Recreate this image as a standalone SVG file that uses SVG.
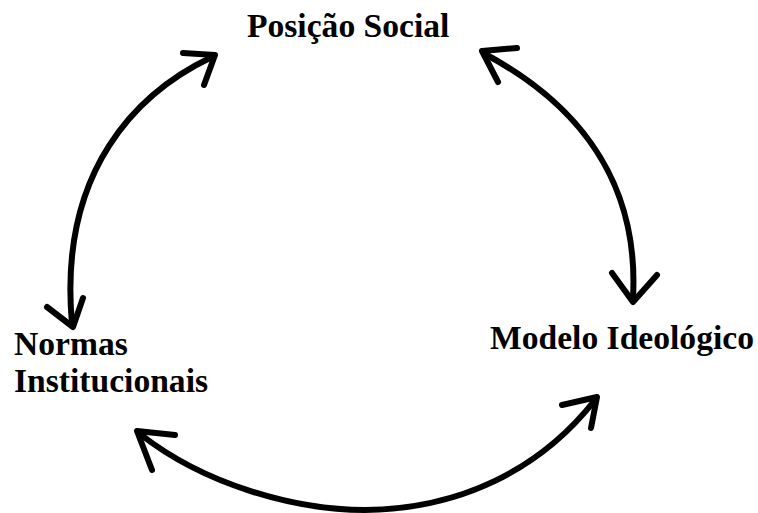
<svg xmlns="http://www.w3.org/2000/svg" width="758" height="513" viewBox="0 0 758 513">
  <style>
    .label { font-family: "Liberation Serif", "Times New Roman", serif; font-weight: bold; font-size: 33.6px; fill: #000; }
    .link { fill: none; stroke: #000; stroke-width: 6; stroke-linecap: round; stroke-linejoin: round; }
  </style>
  <rect width="758" height="513" fill="#fff"/>

  <g id="connectors">
    <!-- Posição Social <-> Normas Institucionais -->
    <g id="link-posicao-normas">
      <path class="link" d="M212,57 C138,92 58,170 72,324"/>
      <polyline class="link" points="183,53 215,55 204,85"/>
      <polyline class="link" points="47,307 73,327 83,298"/>
    </g>
    <!-- Posição Social <-> Modelo Ideológico -->
    <g id="link-posicao-modelo">
      <path class="link" d="M485,54 C565,97 640,170 633,298"/>
      <polyline class="link" points="517,48 482,51 498,82"/>
      <polyline class="link" points="612,273 633,302 657,275"/>
    </g>
    <!-- Normas Institucionais <-> Modelo Ideológico -->
    <g id="link-normas-modelo">
      <path class="link" d="M140,434 C205,485 295,510 365,510 C460,509 540,470 595,400"/>
      <polyline class="link" points="175,435 137,431 152,470"/>
      <polyline class="link" points="562,405 597,397 591,428"/>
    </g>
  </g>

  <g id="node-posicao-social">
    <text class="label" x="247" y="37">Posição Social</text>
  </g>
  <g id="node-normas-institucionais">
    <text class="label" x="14" y="355">Normas</text>
    <text class="label" x="14" y="392">Institucionais</text>
  </g>
  <g id="node-modelo-ideologico">
    <text class="label" x="490" y="349">Modelo Ideológico</text>
  </g>
</svg>
